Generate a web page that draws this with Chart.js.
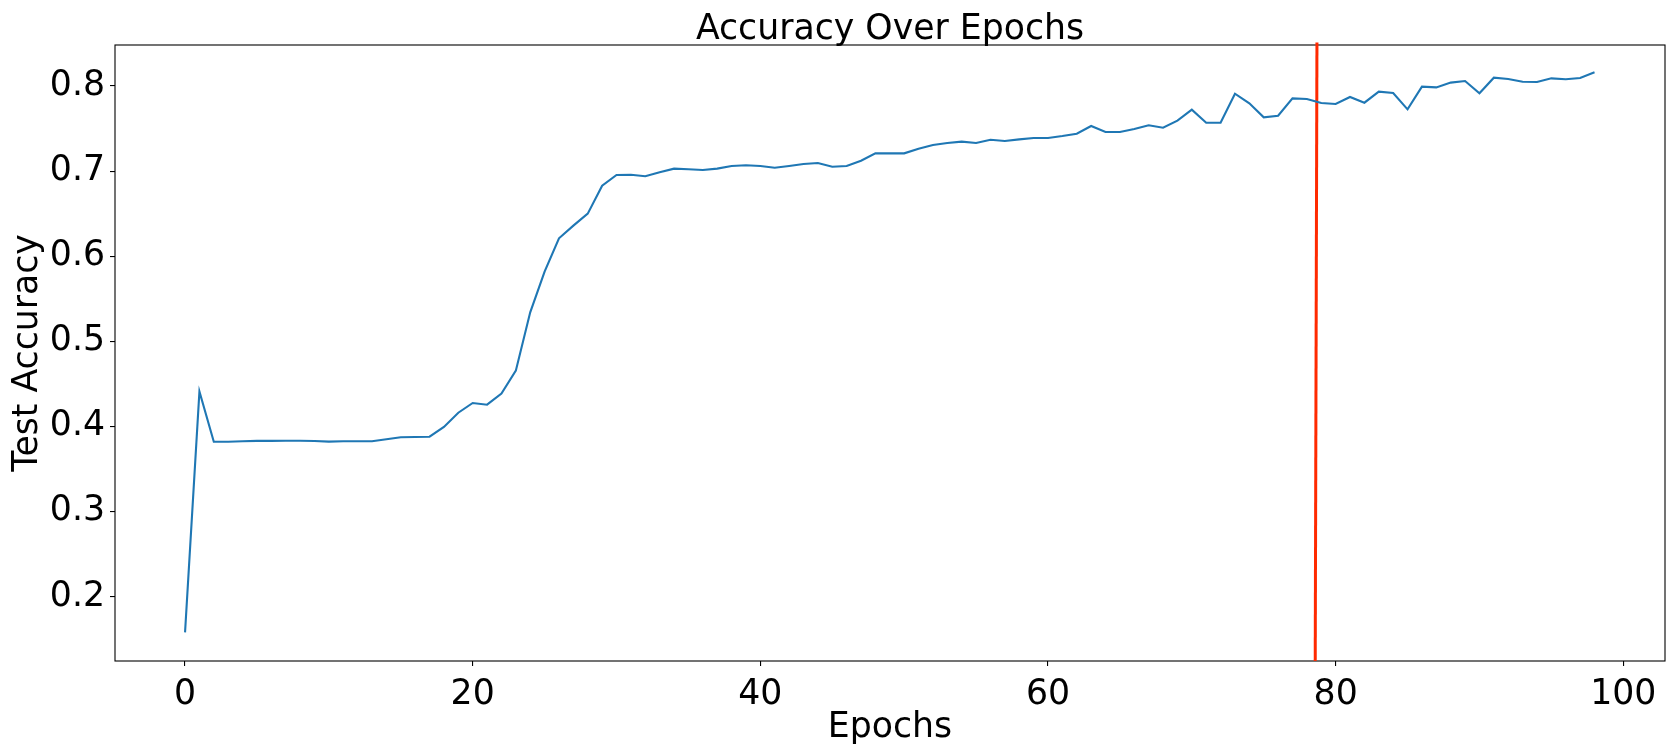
<!DOCTYPE html>
<html>
<head>
<meta charset="utf-8">
<title>Accuracy Over Epochs</title>
<script src="https://cdn.jsdelivr.net/npm/chart.js@4/dist/chart.umd.min.js"></script>
<style>
  html, body { margin: 0; padding: 0; background: #fff; }
  #chart { display: block; }
</style>
</head>
<body>
<canvas id="chart" width="1674" height="754"></canvas>
<script>
// test accuracy per epoch
const testAccuracy = [
  0.158, 0.441, 0.382, 0.382, 0.3825, 0.383, 0.383, 0.3832, 0.3832, 0.3828,
  0.3821, 0.3825, 0.3825, 0.3825, 0.3848, 0.3872, 0.3875, 0.3879, 0.3993, 0.4161,
  0.4275, 0.4255, 0.4385, 0.4655, 0.534, 0.5818, 0.621, 0.6359, 0.650, 0.6829,
  0.6954, 0.6958, 0.6939, 0.6986, 0.7029, 0.7021, 0.7013, 0.7029, 0.706, 0.7068,
  0.706, 0.704, 0.706, 0.7083, 0.7095, 0.7052, 0.706, 0.7122, 0.7209, 0.7209,
  0.7209, 0.7263, 0.7307, 0.733, 0.7346, 0.733, 0.7369, 0.7354, 0.7373, 0.7389,
  0.7389, 0.7412, 0.744, 0.753, 0.746, 0.746, 0.7495, 0.7538, 0.751, 0.7593,
  0.7722, 0.7569, 0.7569, 0.791, 0.7797, 0.7632, 0.7651, 0.7855, 0.7847, 0.78,
  0.7788, 0.7871, 0.7804, 0.7934, 0.7918, 0.7726, 0.7992, 0.7984, 0.804, 0.8059,
  0.7914, 0.8098, 0.8082, 0.8051, 0.8047, 0.809, 0.8079, 0.8094, 0.8161
];
const epochs = testAccuracy.map((_, i) => i);

// red marker line (slightly slanted in the original)
const markerEpochs = [78.58, 78.7];
const markerAcc = [0.1243, 0.851];

const xTicks = [0, 20, 40, 60, 80, 100];
const yTicks = [0.2, 0.3, 0.4, 0.5, 0.6, 0.7, 0.8];
const xRange = [-4.87, 102.9];
const yRange = [0.1243, 0.8482];

const FONT = "'DejaVu Sans', sans-serif";
const SIZE = 34.7;

Chart.defaults.font.family = FONT;
Chart.defaults.color = '#000';

// full box around the plot area
const frame = {
  id: 'frame',
  beforeDatasetsDraw(chart) {
    const { ctx, chartArea: a } = chart;
    ctx.save();
    ctx.strokeStyle = '#000';
    ctx.lineWidth = 1.1;
    ctx.strokeRect(a.left, a.top, a.right - a.left, a.bottom - a.top);
    ctx.restore();
  }
};

// x tick labels, placed on an alphabetic baseline under the axis
const xLabels = {
  id: 'xLabels',
  afterDraw(chart) {
    const { ctx, chartArea: a } = chart;
    const sx = chart.scales.x;
    ctx.save();
    ctx.fillStyle = '#000';
    ctx.font = `${SIZE}px ${FONT}`;
    ctx.textAlign = 'center';
    ctx.textBaseline = 'alphabetic';
    xTicks.forEach(v => ctx.fillText(String(v), sx.getPixelForValue(v), a.bottom + 43));
    ctx.restore();
  }
};

const tickGrid = { display: true, drawOnChartArea: false, drawTicks: true, tickLength: 5, color: '#000', lineWidth: 1.1 };

new Chart(document.getElementById('chart'), {
  type: 'line',
  data: {
    datasets: [
      {
        label: 'Test Accuracy',
        data: epochs.map((e, i) => ({ x: e, y: testAccuracy[i] })),
        borderColor: '#1f77b4',
        borderWidth: 2.1,
        pointRadius: 0,
        tension: 0,
        fill: false
      },
      {
        label: 'marker',
        data: markerEpochs.map((e, i) => ({ x: e, y: markerAcc[i] })),
        borderColor: '#ff2a00',
        borderWidth: 3,
        pointRadius: 0,
        fill: false,
        clip: false
      }
    ]
  },
  options: {
    responsive: false,
    devicePixelRatio: 1,
    animation: false,
    events: [],
    layout: { padding: { left: 0, right: 9, top: 0, bottom: 0 } },
    plugins: {
      legend: { display: false },
      tooltip: { enabled: false },
      title: {
        display: true,
        fullSize: false,
        text: 'Accuracy Over Epochs',
        color: '#000',
        font: { size: SIZE, weight: 'normal', lineHeight: 1.0 },
        padding: { top: 13, bottom: -2.7 }
      }
    },
    scales: {
      x: {
        type: 'linear',
        min: xRange[0],
        max: xRange[1],
        afterBuildTicks: s => { s.ticks = xTicks.map(v => ({ value: v })); },
        afterFit: s => { s.height = 93; },
        grid: tickGrid,
        border: { display: false },
        ticks: { display: false },
        title: {
          display: true,
          text: 'Epochs',
          font: { size: SIZE, lineHeight: 1.2 },
          padding: { top: 0, bottom: 5.5 }
        }
      },
      y: {
        type: 'linear',
        min: yRange[0],
        max: yRange[1],
        afterBuildTicks: s => { s.ticks = yTicks.map(v => ({ value: v })); },
        afterFit: s => { s.width = 115; },
        grid: tickGrid,
        border: { display: false },
        ticks: { font: { size: SIZE }, padding: 5, callback: v => v.toFixed(1) },
        title: {
          display: true,
          text: 'Test Accuracy',
          font: { size: SIZE, lineHeight: 1.2 },
          padding: { top: 7.5, bottom: 0 }
        }
      }
    }
  },
  plugins: [frame, xLabels]
});
</script>
</body>
</html>
